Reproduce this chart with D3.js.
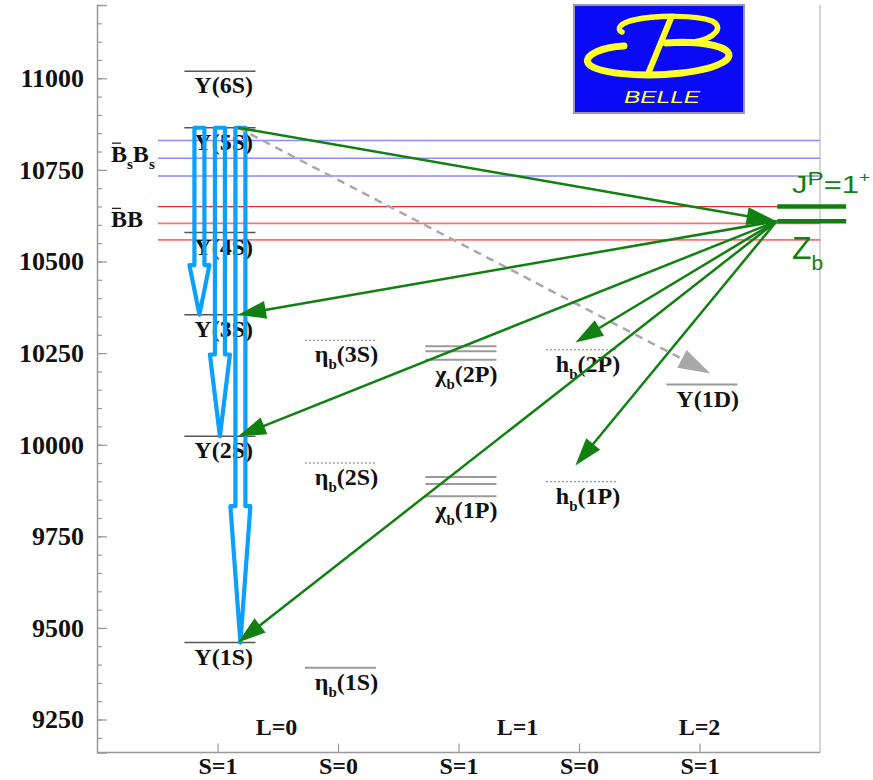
<!DOCTYPE html>
<html>
<head>
<meta charset="utf-8">
<script src="https://cdn.jsdelivr.net/npm/d3@7"></script>
<style>
  body { margin: 0; background: #fff; }
  svg { display: block; }
</style>
</head>
<body>
<svg id="chart" width="873" height="780"></svg>
<script>
// ---- Bottomonium spectrum (masses in MeV) ----
const stateNames  = ["Υ(6S)", "Υ(5S)", "Υ(4S)", "Υ(3S)", "Υ(2S)", "Υ(1S)",
                     "η_b(3S)", "η_b(2S)", "η_b(1S)",
                     "χ_b(2P)", "χ_b(1P)",
                     "h_b(2P)", "h_b(1P)",
                     "Υ(1D)"];
const stateColumn = [1, 1, 1, 1, 1, 1, 2, 2, 2, 3, 3, 4, 4, 5];
const stateMasses = [[11019], [10865], [10579], [10355], [10023], [9460],
                     [10285], [9950], [9391],
                     [10232, 10255, 10269], [9859, 9893, 9912],
                     [10259], [9899],
                     [10164]];
const stateStatus = ["vector", "vector", "vector", "vector", "vector", "vector",
                     "new", "new", "known",
                     "known", "known",
                     "new", "new",
                     "known"];

// Open-beauty thresholds
const bsbsThresholds = [10733, 10782, 10830];
const bbThresholds   = [10559, 10604, 10650];

// Zb(10610) and Zb(10650)
const zbMasses = [10610, 10650];
const zbColumn = [5.645, 5.645];

// Υ(5S) → Υ(nS) π+π− transitions (hollow arrows)
const dipionColumn = [0.85, 1.02, 1.19];
const dipionFrom   = 10865;
const dipionTo     = [10355, 10023, 9460];

// Υ(5S) → Zb π and Zb → (bb̄) π transitions
const zbVertexColumn = 5.64;
const zbVertexMass   = 10610;
const sourceColumn   = 1.17;
const sourceMass     = 10865;
const zbDecayColumn  = [1.17, 1.17, 1.17, 3.97, 3.97];
const zbDecayMass    = [10355, 10023, 9460, 10279, 9943];

// Υ(5S) → Υ(1D) ππ (dashed)
const dTransColumn = 5.09;
const dTransMass   = 10194;

// Axis labelling
const massTicks     = [9250, 9500, 9750, 10000, 10250, 10500, 10750, 11000];
const spinColumns   = [1, 2, 3, 4, 5];
const spinLabels    = ["S=1", "S=0", "S=1", "S=0", "S=1"];
const orbitalLabels = ["L=0", "L=1", "L=2"];
const orbitalColumn = [1.49, 3.49, 5.0];

// ---- Drawing ----
const svg = d3.select("#chart");
const serif = "'Liberation Serif', 'Times New Roman', serif";
const sans  = "'Liberation Sans', Arial, sans-serif";

const x = d3.scaleLinear().domain([0, 6]).range([97, 820]);
const y = d3.scaleLinear().domain([9160, 11200]).range([752.5, 5]);

const axisColor = "#999";
const green = "#118011";
const blue = "#0aa0ff";

// Right frame line
svg.append("line").attr("x1", x(6)).attr("x2", x(6)).attr("y1", y(11200)).attr("y2", y(9160))
  .attr("stroke", "#c8c8c8").attr("stroke-width", 1.5);

// Left axis: minor ticks every 50, major every 250
const minorTicks = d3.range(9200, 11201, 50);
const yMinor = d3.axisLeft(y).tickValues(minorTicks).tickSize(-5).tickFormat("");
svg.append("g").attr("transform", `translate(${x(0)},0)`).call(yMinor)
  .call(g => g.select(".domain").remove())
  .call(g => g.selectAll("line").attr("stroke", axisColor).attr("stroke-width", 1.2));

const yMajor = d3.axisLeft(y).tickValues(massTicks).tickSize(-10).tickPadding(13)
  .tickFormat(d3.format("d"));
svg.append("g").attr("transform", `translate(${x(0)},0)`).call(yMajor)
  .call(g => g.select(".domain").attr("stroke", axisColor).attr("stroke-width", 1.5))
  .call(g => g.selectAll("line").attr("stroke", axisColor).attr("stroke-width", 1.2))
  .call(g => g.selectAll("text").attr("font-family", serif).attr("font-weight", "bold")
    .attr("font-size", 26).attr("fill", "#111"));

// Bottom axis
const xAxis = d3.axisBottom(x).tickValues(spinColumns).tickSize(-9).tickPadding(4)
  .tickFormat((d, i) => spinLabels[i]);
svg.append("g").attr("transform", `translate(0,${y(9160)})`).call(xAxis)
  .call(g => g.select(".domain").attr("d", `M${x(0)},0H${x(6)}`).attr("stroke", axisColor).attr("stroke-width", 1.5))
  .call(g => g.selectAll("line").attr("stroke", axisColor).attr("stroke-width", 1.2))
  .call(g => g.selectAll("text").attr("font-family", serif).attr("font-weight", "bold")
    .attr("font-size", 24).attr("fill", "#111"));

// Orbital angular momentum labels
svg.append("g").selectAll("text").data(orbitalLabels).join("text")
  .attr("x", (d, i) => x(orbitalColumn[i])).attr("y", y(9160) - 18)
  .attr("text-anchor", "middle")
  .attr("font-family", serif).attr("font-weight", "bold").attr("font-size", 24).attr("fill", "#111")
  .text(d => d);

// Threshold lines
const thr = svg.append("g");
thr.selectAll(".bs").data(bsbsThresholds).join("line")
  .attr("x1", x(0.506)).attr("x2", x(6)).attr("y1", d => y(d)).attr("y2", d => y(d))
  .attr("stroke", "#8a8aff").attr("stroke-width", 1.5);
thr.selectAll(".bb").data(bbThresholds).join("line")
  .attr("x1", x(0.506)).attr("x2", x(6)).attr("y1", d => y(d)).attr("y2", d => y(d))
  .attr("stroke", (d, i) => i === bbThresholds.length - 1 ? "#e83030" : "#ff6f6f")
  .attr("stroke-width", (d, i) => i === bbThresholds.length - 1 ? 1.2 : 1.8);

// Threshold labels with overbar on the antiparticle
function thresholdLabel(parts, baseMass) {
  const tx = 111, ty = y(baseMass) + 4;
  const t = svg.append("text").attr("x", tx).attr("y", ty)
    .attr("font-family", serif).attr("font-weight", "bold").attr("font-size", 24).attr("fill", "#111");
  parts.forEach(p => {
    if (p.sub) t.append("tspan").attr("font-size", 15).attr("dy", 7).text(p.s);
    else t.append("tspan").attr("dy", p.after ? -7 : 0).text(p.s);
  });
  const bw = t.node().getSubStringLength(0, 1);
  svg.append("line").attr("x1", tx + 1).attr("x2", tx + bw - 6)
    .attr("y1", ty - 19).attr("y2", ty - 19).attr("stroke", "#222").attr("stroke-width", 1.3);
}
thresholdLabel([{s: "B"}, {s: "s", sub: true}, {s: "B", after: true}, {s: "s", sub: true}], bsbsThresholds[1]);
thresholdLabel([{s: "BB"}], bbThresholds[1]);

// Energy levels
const halfW = 0.295;
const levels = svg.append("g");
stateNames.forEach((name, i) => {
  const c = stateColumn[i];
  const status = stateStatus[i];
  stateMasses[i].forEach(m => {
    const ln = levels.append("line")
      .attr("x1", x(c - halfW + 0.02)).attr("x2", x(c + halfW + 0.02))
      .attr("y1", y(m)).attr("y2", y(m));
    if (status === "vector") ln.attr("stroke", "#555").attr("stroke-width", 1.5);
    else if (status === "new") ln.attr("stroke", "#777").attr("stroke-width", 1).attr("stroke-dasharray", "2,2");
    else ln.attr("stroke", "#9a9a9a").attr("stroke-width", 2);
  });
  const low = d3.min(stateMasses[i]);
  const t = levels.append("text")
    .attr("x", x(c - halfW + 0.02) + 10).attr("y", y(low) + 22)
    .attr("font-family", serif).attr("font-weight", "bold").attr("font-size", 24).attr("fill", "#111");
  const m = name.match(/^(.*?)_(\w)(.*)$/);
  if (m) {
    t.append("tspan").text(m[1]);
    t.append("tspan").attr("font-size", 15).attr("dy", 7).text(m[2]);
    t.append("tspan").attr("dy", -7).text(m[3]);
  } else {
    t.text(name);
  }
});

// Hollow dipion transition arrows
const hollow = svg.append("g");
dipionTo.forEach((mTo, i) => {
  const cx = x(dipionColumn[i]);
  const y0 = y(dipionFrom), y1 = y(mTo);
  const L = y1 - y0, h = 0.265 * L, a = 5, b = 10;
  const p = d3.path();
  p.moveTo(cx - a, y0); p.lineTo(cx + a, y0); p.lineTo(cx + a, y1 - h); p.lineTo(cx + b, y1 - h);
  p.lineTo(cx, y1); p.lineTo(cx - b, y1 - h); p.lineTo(cx - a, y1 - h); p.closePath();
  hollow.append("path").attr("d", p.toString()).attr("fill", "none")
    .attr("stroke", blue).attr("stroke-width", 4.2).attr("stroke-linejoin", "round");
});

// Solid arrows with filled triangular heads
function arrow(g, x0, y0, x1, y1, color, headLen, headHalf, dash) {
  const dx = x1 - x0, dy = y1 - y0, len = Math.hypot(dx, dy);
  const ux = dx / len, uy = dy / len;
  const bx = x1 - ux * headLen, by = y1 - uy * headLen;
  const ln = g.append("line").attr("x1", x0).attr("y1", y0).attr("x2", bx + ux * 2).attr("y2", by + uy * 2)
    .attr("stroke", color).attr("stroke-width", 2.5);
  if (dash) ln.attr("stroke-dasharray", dash);
  g.append("path")
    .attr("d", `M${x1},${y1}L${bx - uy * headHalf},${by + ux * headHalf}L${bx + uy * headHalf},${by - ux * headHalf}Z`)
    .attr("fill", color);
}

const arrows = svg.append("g");
arrow(arrows, x(sourceColumn), y(sourceMass), x(dTransColumn), y(dTransMass), "#a8a8a8", 32, 10, "8,6");
arrow(arrows, x(sourceColumn), y(sourceMass), x(zbVertexColumn), y(zbVertexMass), green, 30, 9);
zbDecayColumn.forEach((c, i) => {
  arrow(arrows, x(zbVertexColumn), y(zbVertexMass), x(c), y(zbDecayMass[i]), green, 28, 9);
});

// Zb levels
svg.append("g").selectAll("line").data(zbMasses).join("line")
  .attr("x1", (d, i) => x(zbColumn[i])).attr("x2", (d, i) => x(zbColumn[i]) + 69)
  .attr("y1", d => y(d)).attr("y2", d => y(d))
  .attr("stroke", green).attr("stroke-width", 4.5);

// Quantum numbers and name of the Zb states
const jp = svg.append("text").attr("font-family", sans).attr("font-size", 23).attr("fill", green);
jp.append("tspan").text("J");
jp.append("tspan").attr("font-size", 18).attr("dy", -8).text("P");
jp.append("tspan").attr("dy", 8).text("=1");
jp.append("tspan").attr("font-size", 14).attr("dy", -11).text("+");
const jpW = jp.node().getComputedTextLength();
jp.attr("transform", `translate(792,${y(zbMasses[1]) - 14}) scale(${78 / jpW},1)`);

const zb = svg.append("text").attr("x", 792).attr("y", y(zbMasses[0]) + 38)
  .attr("font-family", sans).attr("font-size", 32).attr("fill", green);
zb.append("tspan").text("Z");
zb.append("tspan").attr("font-size", 21).attr("dy", 11).text("b");

// Collaboration logo
const logo = svg.append("g").attr("transform", "translate(574,5)");
logo.append("rect").attr("width", 170).attr("height", 108)
  .attr("fill", "#0a0af6").attr("stroke", "#9898b0").attr("stroke-width", 2);
const yellow = "#ffff2a";
// lower swoosh of the B
logo.append("path")
  .attr("d", "M50,41 C28,42 10,50 14,58 C20,68 66,73 108,68 C148,63 164,52 150,44 C138,38 114,36 92,38")
  .attr("fill", "none").attr("stroke", yellow).attr("stroke-width", 7).attr("stroke-linecap", "round");
// upper bowl of the B
logo.append("path")
  .attr("d", "M48,27 C42,24 46,18 60,15 C82,10 122,10 138,16 C150,22 142,33 120,37 C110,39 100,38 92,38")
  .attr("fill", "none").attr("stroke", yellow).attr("stroke-width", 5.5).attr("stroke-linecap", "round");
// stem of the B
logo.append("path").attr("d", "M97,13 L74,69")
  .attr("fill", "none").attr("stroke", yellow).attr("stroke-width", 6).attr("stroke-linecap", "round");
logo.append("text").attr("x", 88).attr("y", 98).attr("text-anchor", "middle")
  .attr("font-family", sans).attr("font-style", "italic").attr("font-size", 17)
  .attr("fill", "#ffff40").attr("textLength", 76).attr("lengthAdjust", "spacingAndGlyphs")
  .text("BELLE");
</script>
</body>
</html>
